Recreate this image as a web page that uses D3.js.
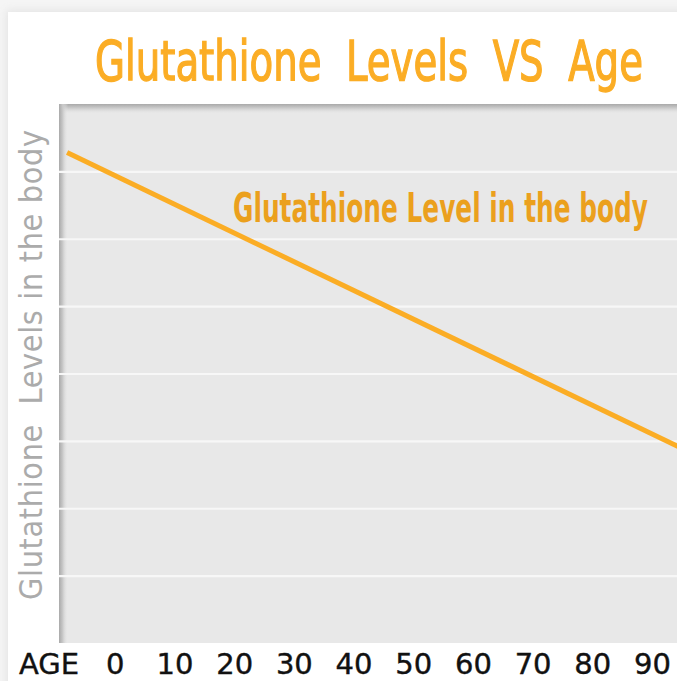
<!DOCTYPE html>
<html>
<head>
<meta charset="utf-8">
<script src="https://cdn.jsdelivr.net/npm/d3@7"></script>
<style>
  html, body { margin: 0; padding: 0; background: #f5f5f5; }
  svg { display: block; }
</style>
</head>
<body>
<script>
// ---- data ----
const chartTitle = "Glutathione  Levels  VS  Age";
const yAxisTitle = "Glutathione  Levels in the body";
const seriesName = "Glutathione Level in the body";
const xAxisLabel = "AGE";
const ageTicks = [0, 10, 20, 30, 40, 50, 60, 70, 80, 90];
const levelGrid = [1, 2, 3, 4, 5, 6, 7];
const lineAges = [-8, 95];
const lineLevels = [7.28, 2.89];

// ---- layout ----
const W = 677, H = 681;
const plot = { left: 59, top: 104, right: 690, bottom: 643 };

const svg = d3.select("body").append("svg").attr("width", W).attr("height", H);
const defs = svg.append("defs");

// outer soft shadow / card
const cardShadow = defs.append("filter").attr("id", "cardShadow").attr("x", "-5%").attr("y", "-5%").attr("width", "110%").attr("height", "110%");
cardShadow.append("feGaussianBlur").attr("stdDeviation", 4);
svg.append("rect").attr("x", 6).attr("y", 10).attr("width", W + 20).attr("height", H + 20)
  .attr("fill", "#e4e4e4").attr("filter", "url(#cardShadow)");
svg.append("rect").attr("x", 8).attr("y", 12).attr("width", W + 20).attr("height", H + 20).attr("fill", "#ffffff");

// scales
const x = d3.scaleLinear().domain([10, 90]).range([174.5, 652]);
const y = d3.scaleLinear().domain([0, 8]).range([plot.bottom, plot.top]);

// plot background
const clip = defs.append("clipPath").attr("id", "plotClip");
clip.append("rect").attr("x", plot.left).attr("y", plot.top)
  .attr("width", plot.right - plot.left).attr("height", plot.bottom - plot.top);

svg.append("rect").attr("x", plot.left).attr("y", plot.top)
  .attr("width", plot.right - plot.left).attr("height", plot.bottom - plot.top)
  .attr("fill", "#e8e8e8");

// inner shadows
const gl = defs.append("linearGradient").attr("id", "shL").attr("x1", 0).attr("x2", 1).attr("y1", 0).attr("y2", 0);
gl.append("stop").attr("offset", 0).attr("stop-color", "#a9a9a9");
gl.append("stop").attr("offset", 0.4).attr("stop-color", "#c8c8c8");
gl.append("stop").attr("offset", 1).attr("stop-color", "#e8e8e8").attr("stop-opacity", 0);
const gt = defs.append("linearGradient").attr("id", "shT").attr("x1", 0).attr("x2", 0).attr("y1", 0).attr("y2", 1);
gt.append("stop").attr("offset", 0).attr("stop-color", "#a9a9a9");
gt.append("stop").attr("offset", 0.4).attr("stop-color", "#cacaca");
gt.append("stop").attr("offset", 1).attr("stop-color", "#e8e8e8").attr("stop-opacity", 0);

const shadowG = svg.append("g").attr("clip-path", "url(#plotClip)");
shadowG.append("rect").attr("x", plot.left).attr("y", plot.top)
  .attr("width", plot.right - plot.left).attr("height", 10).attr("fill", "url(#shT)");
shadowG.append("rect").attr("x", plot.left).attr("y", plot.top)
  .attr("width", 9).attr("height", plot.bottom - plot.top).attr("fill", "url(#shL)");

// grid lines via axis
const grid = svg.append("g").attr("transform", `translate(${plot.left},0)`)
  .call(d3.axisLeft(y).tickValues(levelGrid).tickFormat("").tickSize(-(plot.right - plot.left)));
grid.select(".domain").remove();
grid.selectAll(".tick line").attr("stroke", "#f7f7f7").attr("stroke-width", 2.2);

// line
const lineData = lineAges.map((a, i) => ({ age: a, level: lineLevels[i] }));
svg.append("g").attr("clip-path", "url(#plotClip)")
  .append("path").datum(lineData)
  .attr("d", d3.line().x(d => x(d.age)).y(d => y(d.level)))
  .attr("fill", "none").attr("stroke", "#fbad25").attr("stroke-width", 5);

// helper: condensed text by horizontal scaling to a target width
function condensed(txt, cx, by, size, target, attrs) {
  const g = svg.append("g");
  const t = g.append("text")
    .attr("text-anchor", "middle")
    .attr("font-size", size)
    .attr("xml:space", "preserve")
    .text(txt);
  Object.entries(attrs).forEach(([k, v]) => t.attr(k, v));
  const w = t.node().getComputedTextLength();
  g.attr("transform", `translate(${cx},${by}) scale(${target / w},1)`);
  return t;
}

// series label
condensed(seriesName, 440.5, 222, 40, 415, {
  "font-family": "'DejaVu Sans Condensed', 'DejaVu Sans', sans-serif",
  "font-weight": "bold", "fill": "#eba01d"
});

// title
condensed(chartTitle, 369, 80, 55, 548, {
  "font-family": "'DejaVu Sans Condensed', 'DejaVu Sans', sans-serif",
  "fill": "#fbad25", "stroke": "#fbad25", "stroke-width": 1.3
});

// y-axis title
svg.append("text")
  .attr("transform", "translate(42,365) rotate(-90)")
  .attr("text-anchor", "middle")
  .attr("xml:space", "preserve")
  .attr("font-family", "'DejaVu Sans Condensed', 'DejaVu Sans', sans-serif")
  .attr("font-size", 32)
  .attr("textLength", 470).attr("lengthAdjust", "spacing")
  .attr("fill", "#ababab")
  .text(yAxisTitle);

// x axis labels
const xAxis = svg.append("g").attr("transform", `translate(0,${plot.bottom})`)
  .call(d3.axisBottom(x).tickValues(ageTicks).tickSize(0).tickPadding(0));
xAxis.select(".domain").remove();
xAxis.selectAll(".tick text")
  .attr("dy", null).attr("y", 31)
  .attr("font-family", "'DejaVu Sans', sans-serif")
  .attr("font-size", 29).attr("fill", "#111")
  .attr("stroke", "#111").attr("stroke-width", 0.4);

svg.append("text")
  .attr("x", 49).attr("y", plot.bottom + 31)
  .attr("text-anchor", "middle")
  .attr("font-family", "'DejaVu Sans', sans-serif")
  .attr("font-size", 29).attr("fill", "#111")
  .attr("stroke", "#111").attr("stroke-width", 0.4)
  .text(xAxisLabel);
</script>
</body>
</html>
